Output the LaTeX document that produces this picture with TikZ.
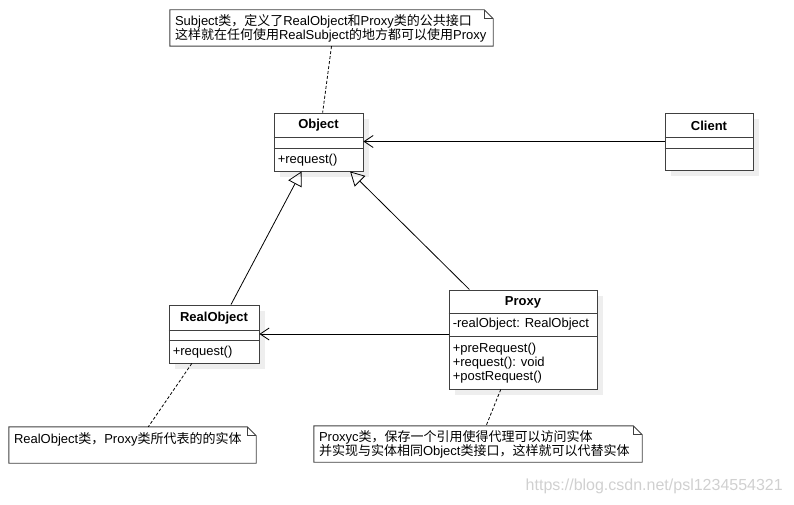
\documentclass[tikz,border=0pt]{standalone}
\usepackage{fontspec}
\setmainfont{Liberation Sans}
\newfontfamily\cjk{Noto Sans CJK SC}
\usepackage{xcolor}
\usepackage{tikz}
\usetikzlibrary{arrows.meta,shadows}
\definecolor{Line}{HTML}{404040}
\definecolor{Shade}{HTML}{eeeeee}
\definecolor{Mark}{HTML}{d0d0d0}
\newcommand{\zh}[1]{{\cjk #1}}
\tikzset{%
  umlclass/.style={draw=Line, fill=white, line width=0.9pt, inner sep=0pt,
    drop shadow={shadow xshift=6pt, shadow yshift=-6pt, fill=Shade, opacity=1}},
  umltitle/.style={inner sep=0pt, font=\fontsize{13}{14}\selectfont\bfseries},
  umlitem/.style={anchor=west, inner sep=0pt, align=left, font=\fontsize{13}{14}\selectfont},
  umlnote/.style={inner xsep=5pt, inner ysep=0pt, minimum height=36pt, align=left, font=\fontsize{13}{14}\selectfont},
  notebox/.style={draw=Line, line width=0.9pt},
  assoc/.style={line width=0.8pt, -{Straight Barb[length=9pt, width=12pt]}},
  inherit/.style={line width=0.8pt, -{Triangle[open, length=14pt, width=15pt]}},
  anchorline/.style={line width=0.8pt, dash pattern=on 3pt off 2pt},
}
\begin{document}
\begin{tikzpicture}[x=1pt, y=-1pt]%
\useasboundingbox (0,0) rectangle (794,505);%
% classes
\node[umlclass, minimum width=89pt, minimum height=58pt] (object) at (318.5,142) {};%
\node[umltitle] (objectname) at ([yshift=-13pt]object.north) {Object};%
\draw[Line, line width=0.9pt] ([yshift=-25pt]object.north west) -- ([yshift=-25pt]object.north east);%
\draw[Line, line width=0.9pt] ([yshift=-36pt]object.north west) -- ([yshift=-36pt]object.north east);%
\node[umlitem] (objectops) at ([xshift=4pt, yshift=-47.5pt]object.north west) {+request()};%
\node[umlclass, minimum width=88pt, minimum height=57pt] (client) at (709,141.5) {};%
\node[umltitle] (clientname) at ([yshift=-13pt]client.north) {Client};%
\draw[Line, line width=0.9pt] ([yshift=-25pt]client.north west) -- ([yshift=-25pt]client.north east);%
\draw[Line, line width=0.9pt] ([yshift=-36pt]client.north west) -- ([yshift=-36pt]client.north east);%
\node[umlclass, minimum width=90pt, minimum height=58pt] (realobj) at (214,334) {};%
\node[umltitle] (realobjname) at ([yshift=-13.5pt]realobj.north) {RealObject};%
\draw[Line, line width=0.9pt] ([yshift=-26pt]realobj.north west) -- ([yshift=-26pt]realobj.north east);%
\draw[Line, line width=0.9pt] ([yshift=-36pt]realobj.north west) -- ([yshift=-36pt]realobj.north east);%
\node[umlitem] (realobjops) at ([xshift=4pt, yshift=-47.5pt]realobj.north west) {+request()};%
\node[umlclass, minimum width=148pt, minimum height=99pt] (proxy) at (523,339.5) {};%
\node[umltitle] (proxyname) at ([yshift=-12.5pt]proxy.north) {Proxy};%
\draw[Line, line width=0.9pt] ([yshift=-24pt]proxy.north west) -- ([yshift=-24pt]proxy.north east);%
\draw[Line, line width=0.9pt] ([yshift=-47pt]proxy.north west) -- ([yshift=-47pt]proxy.north east);%
\node[umlitem] (proxyattr) at ([xshift=4pt, yshift=-35pt]proxy.north west) {-realObject: RealObject};%
\node[umlitem] (proxyops) at ([xshift=4pt, yshift=-73.5pt]proxy.north west) {+preRequest()\\+request(): void\\+postRequest()};%
% notes
\node[umlnote, minimum width=323pt, text width=313pt] (note1) at (331.5,28) {Subject\zh{类，定义了}RealObject\zh{和}Proxy\zh{类的公共接口}\\\zh{这样就在任何使用}RealSubject\zh{的地方都可以使用}Proxy};%
\node[umlnote, minimum width=247pt, text width=237pt] (note2) at (132.5,445) {RealObject\zh{类，}Proxy\zh{类所代表的的实体}\\\mbox{}};%
\node[umlnote, minimum width=328pt, text width=318pt] (note3) at (478,444) {Proxyc\zh{类，保存一个引用使得代理可以访问实体}\\\zh{并实现与实体相同}Object\zh{类接口，这样就可以代替实体}};%
\foreach \n in {note1,note2,note3}{%
  \draw[notebox] (\n.north west) -- ([xshift=-9pt]\n.north east) -- ([yshift=-9pt]\n.north east) -- (\n.south east) -- (\n.south west) -- cycle;%
  \draw[notebox] ([xshift=-9pt]\n.north east) |- ([yshift=-9pt]\n.north east);%
}%
% connectors
\draw[assoc] (client.west) -- (client.west -| object.east);%
\draw[assoc] (proxy.west |- realobj) -- (realobj.east);%
\draw[inherit] (realobj.60) -- (object.240);%
\draw[inherit] (proxy.137) -- (object.317);%
\draw[anchorline] (note1.south) -- (object.82);%
\draw[anchorline] (realobj.233) -- (note2.49);%
\draw[anchorline] (proxy.246) -- (note3.66);%
\node[anchor=east, inner sep=0pt, text=Mark, font=\fontsize{16}{18}\selectfont] (watermark) at (783,486) {https://blog.csdn.net/psl1234554321};%
\end{tikzpicture}
\end{document}
